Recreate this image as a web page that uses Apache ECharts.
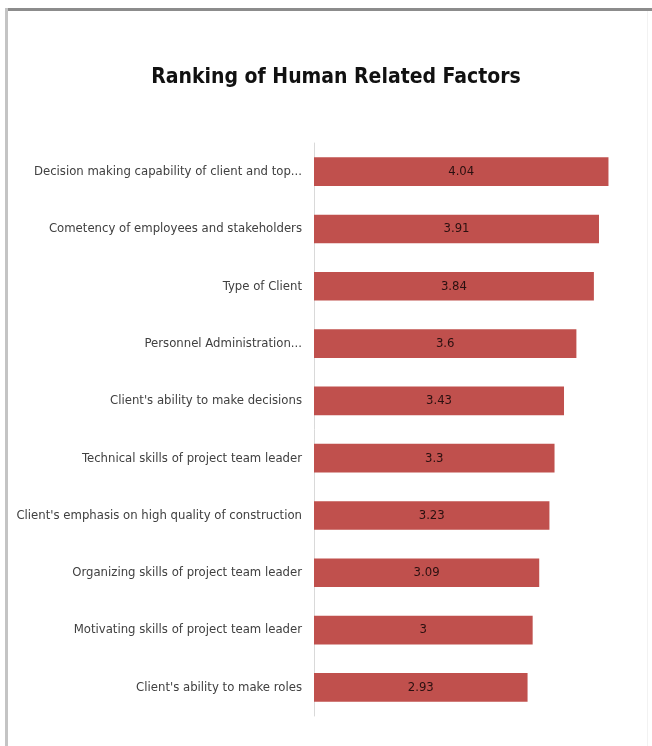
<!DOCTYPE html>
<html>
<head>
<meta charset="utf-8">
<title>Ranking of Human Related Factors</title>
<script src="https://cdn.jsdelivr.net/npm/echarts@6/dist/echarts.min.js"></script>
<style>
  html, body { margin: 0; padding: 0; background: #fff; }
  #chart { width: 652px; height: 746px; }
</style>
</head>
<body>
<div id="chart"></div>
<script>
// factors, top to bottom as shown
const factors = [
  'Decision making capability of client and top...',
  'Cometency of employees and stakeholders',
  'Type of Client',
  'Personnel Administration...',
  "Client's ability to make decisions",
  'Technical skills of project team leader',
  "Client's emphasis on high quality of construction",
  'Organizing skills of project team leader',
  'Motivating skills of project team leader',
  "Client's ability to make roles"
]
const scores = [4.04, 3.91, 3.84, 3.6, 3.43, 3.3, 3.23, 3.09, 3, 2.93]

const narrow = '"DejaVu Sans Condensed", "Liberation Sans Narrow", sans-serif'

const chart = echarts.init(document.getElementById('chart'), null, { renderer: 'canvas' })
const option = {
  animation: false,
  backgroundColor: '#fff',
  title: {
    text: 'Ranking of Human Related Factors',
    left: 331,
    top: 62,
    textAlign: 'center',
    textStyle: {
      fontFamily: narrow,
      fontWeight: 'bold',
      fontSize: 21,
      color: '#111'
    }
  },
  graphic: [
    // picture frame: top and left edges
    { type: 'rect', shape: { x: 5, y: 8, width: 647, height: 3 }, style: { fill: '#8c8c8c' }, silent: true },
    { type: 'rect', shape: { x: 5, y: 8, width: 3, height: 738 }, style: { fill: '#c4c4c4' }, silent: true },
    { type: 'rect', shape: { x: 647, y: 11, width: 1, height: 735 }, style: { fill: '#f2f2f2' }, silent: true }
  ],
  grid: {
    left: 314,
    right: 10,
    top: 143,
    bottom: 30,
    containLabel: false,
    outerBoundsMode: 'none'
  },
  xAxis: {
    type: 'value',
    min: 0,
    max: 4.5,
    show: false
  },
  yAxis: {
    type: 'category',
    inverse: true,
    data: factors,
    axisLine: { show: true, lineStyle: { color: '#d9d9d9', width: 1 } },
    axisTick: { show: false },
    axisLabel: {
      margin: 12,
      fontFamily: narrow,
      fontSize: 13,
      color: '#404040'
    }
  },
  series: [
    {
      type: 'bar',
      data: scores,
      barWidth: '50%',
      itemStyle: { color: '#c0504d' },
      label: {
        show: true,
        position: 'inside',
        fontFamily: narrow,
        fontSize: 13,
        color: '#2a1010'
      }
    }
  ]
}
chart.setOption(option)
</script>
</body>
</html>
